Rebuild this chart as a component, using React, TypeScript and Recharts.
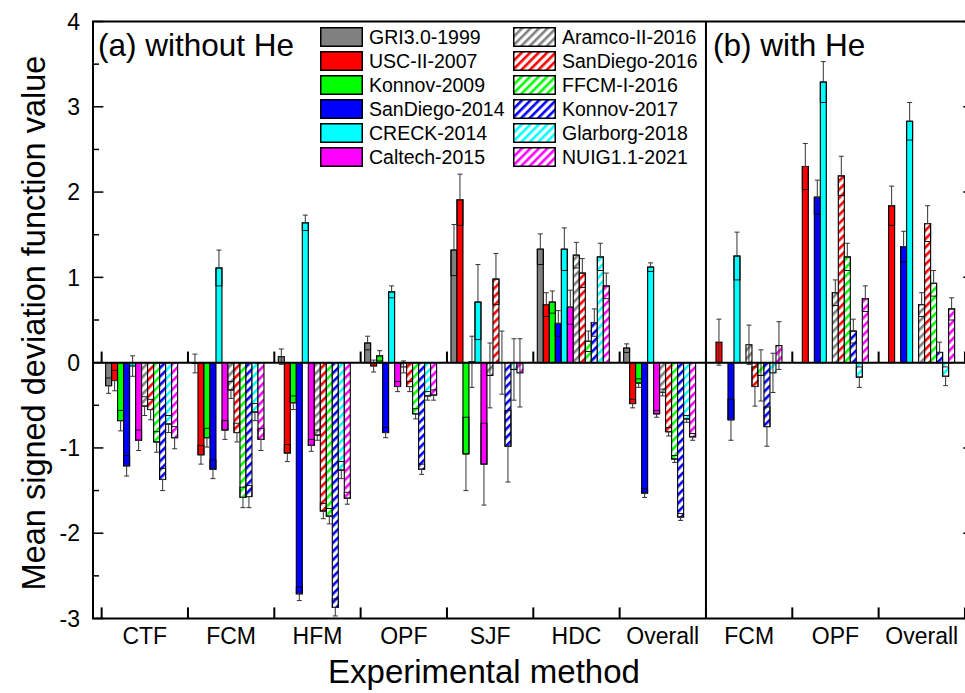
import React from "react";
import {
  Bar,
  BarChart,
  ErrorBar,
  ReferenceArea,
  ReferenceLine,
  XAxis,
  YAxis
} from "recharts";

const FONT = "'Liberation Sans', Arial, Helvetica, sans-serif";

// first seven groups: without He, last three: with He
const categories = ["CTF", "FCM", "HFM", "OPF", "SJF", "HDC", "Overall", "FCM", "OPF", "Overall"];

const gri = [-0.27, -0.01, 0.07, 0.23, 1.32, 1.33, 0.17, null, null, null];
const griErr = [0.09, 0.11, 0.09, 0.08, 0.3, 0.18, 0.05, null, null, null];

const usc = [-0.21, -1.08, -1.06, -0.04, 1.91, 0.68, -0.48, 0.24, 2.3, 1.84];
const uscErr = [0.12, 0.11, 0.1, 0.07, 0.3, 0.14, 0.05, 0.27, 0.27, 0.23];

const konnov09 = [-0.68, -0.88, -0.47, 0.08, -1.07, 0.71, -0.24, null, null, null];
const konnov09Err = [0.12, 0.11, 0.08, 0.06, 0.43, 0.13, 0.05, null, null, null];

const sd14 = [-1.21, -1.25, -2.71, -0.82, 0.01, 0.46, -1.53, -0.67, 1.94, 1.36];
const sd14Err = [0.12, 0.11, 0.08, 0.06, 0.3, 0.15, 0.05, 0.24, 0.2, 0.18];

const creck = [-0.04, 1.11, 1.64, 0.83, 0.71, 1.33, 1.12, 1.25, 3.29, 2.83];
const creckErr = [0.12, 0.21, 0.09, 0.07, 0.44, 0.25, 0.05, 0.28, 0.24, 0.22];

const caltech = [-0.91, -0.79, -0.97, -0.28, -1.19, 0.65, -0.6, null, null, null];
const caltechErr = [0.12, 0.11, 0.07, 0.06, 0.48, 0.2, 0.04, null, null, null];

const aramco = [-0.51, -0.32, -0.85, -0.05, -0.15, 1.26, -0.35, 0.21, 0.82, 0.68];
const aramcoErr = [0.11, 0.1, 0.06, 0.07, 0.38, 0.15, 0.04, 0.23, 0.15, 0.14];

const sd16 = [-0.55, -0.82, -1.74, -0.28, 0.98, 1.05, -0.81, -0.28, 2.19, 1.63];
const sd16Err = [0.12, 0.11, 0.09, 0.06, 0.3, 0.17, 0.05, 0.23, 0.23, 0.21];

const ffcm = [-0.93, -1.58, -1.8, -0.6, 0.0, 0.25, -1.13, -0.15, 1.24, 0.93];
const ffcmErr = [0.12, 0.12, 0.09, 0.06, 0.37, 0.12, 0.04, 0.3, 0.16, 0.15];

const konnov17 = [-1.37, -1.57, -2.87, -1.25, -0.98, 0.47, -1.81, -0.75, 0.37, 0.12];
const konnov17Err = [0.13, 0.13, 0.1, 0.06, 0.42, 0.16, 0.04, 0.23, 0.14, 0.12];

const glarborg = [-0.72, -0.58, -1.26, -0.39, -0.08, 1.24, -0.66, -0.12, -0.17, -0.16];
const glarborgErr = [0.1, 0.1, 0.1, 0.05, 0.36, 0.16, 0.04, 0.23, 0.12, 0.11];

const nuig = [-0.88, -0.9, -1.59, -0.38, -0.12, 0.9, -0.87, 0.2, 0.75, 0.63];
const nuigErr = [0.13, 0.13, 0.07, 0.06, 0.4, 0.15, 0.04, 0.28, 0.15, 0.13];

const yTicks = [-3, -2, -1, 0, 1, 2, 3, 4];
const yMinor = [-2.5, -1.5, -0.5, 0.5, 1.5, 2.5, 3.5];

type Series = {
  name: string;
  color: string;
  hatched: boolean;
  values: (number | null)[];
  errors: (number | null)[];
};

const series: Series[] = [
  { name: "GRI3.0-1999", color: "#808080", hatched: false, values: gri, errors: griErr },
  { name: "USC-II-2007", color: "#ff0000", hatched: false, values: usc, errors: uscErr },
  { name: "Konnov-2009", color: "#00ff00", hatched: false, values: konnov09, errors: konnov09Err },
  { name: "SanDiego-2014", color: "#0000ff", hatched: false, values: sd14, errors: sd14Err },
  { name: "CRECK-2014", color: "#00ffff", hatched: false, values: creck, errors: creckErr },
  { name: "Caltech-2015", color: "#ff00ff", hatched: false, values: caltech, errors: caltechErr },
  { name: "Aramco-II-2016", color: "#808080", hatched: true, values: aramco, errors: aramcoErr },
  { name: "SanDiego-2016", color: "#ff0000", hatched: true, values: sd16, errors: sd16Err },
  { name: "FFCM-I-2016", color: "#00ff00", hatched: true, values: ffcm, errors: ffcmErr },
  { name: "Konnov-2017", color: "#0000ff", hatched: true, values: konnov17, errors: konnov17Err },
  { name: "Glarborg-2018", color: "#00ffff", hatched: true, values: glarborg, errors: glarborgErr },
  { name: "NUIG1.1-2021", color: "#ff00ff", hatched: true, values: nuig, errors: nuigErr },
];

// whisker points away from zero; the inner box covers the other half
const whisker = (v: number | null, e: number | null) => {
  if (v == null || e == null) return null;
  if (Math.abs(v) >= e) return v > 0 ? [0, e] : [e, 0];
  return [e, e];
};

const rows = categories.map((cat, i) => {
  const row: Record<string, any> = { cat, idx: i + 0.5 };
  series.forEach((s, k) => {
    row[`v${k}`] = s.values[i];
    row[`s${k}`] = s.errors[i];
    row[`e${k}`] = whisker(s.values[i], s.errors[i]);
  });
  return row;
});

const fillOf = (s: Series, k: number) => (s.hatched ? `url(#hatch-${k})` : s.color);

const makeShape = (k: number) => (props: any) => {
  const { x, y, width, height, payload } = props;
  const v = payload?.[`v${k}`];
  if (v == null || !Number.isFinite(y) || !Number.isFinite(height)) return <g />;
  const top = height < 0 ? y + height : y;
  const h = Math.abs(height);
  const e = payload[`s${k}`];
  let box = null;
  if (e != null && Math.abs(v) >= e && h > 0) {
    const bh = (h * e) / Math.abs(v);
    const by = v > 0 ? top : top + h - bh;
    box = <rect x={x} y={by} width={width} height={bh} fill="none" stroke="#000" strokeWidth={0.9} />;
  }
  return (
    <g>
      <rect x={x} y={top} width={width} height={h} fill={fillOf(series[k], k)} stroke="#000" strokeWidth={1.1} />
      {box}
    </g>
  );
};

const Legend2Col = () => (
  <>
    {series.map((s, k) => {
      const col = k < 6 ? 0 : 1;
      const r = k % 6;
      return (
        <div
          key={s.name}
          style={{
            position: "absolute",
            left: col === 0 ? 320 : 513,
            top: 27 + r * 24,
            height: 20,
            display: "flex",
            alignItems: "center",
            fontSize: 19.5,
            color: "#000",
            whiteSpace: "nowrap"
          }}
        >
          <svg width={43} height={20} style={{ display: "block" }}>
            <rect x={0.75} y={0.75} width={41.5} height={18.5} fill={fillOf(s, k)} stroke="#000" strokeWidth={1.5} />
          </svg>
          <span style={{ marginLeft: 6 }}>{s.name}</span>
        </div>
      );
    })}
  </>
);

export default function App() {
  return (
    <div
      style={{
        position: "fixed",
        left: 0,
        top: 0,
        width: 965,
        height: 693,
        overflow: "hidden",
        background: "#fff",
        fontFamily: FONT
      }}
    >
      <svg width={0} height={0} style={{ position: "absolute" }}>
        <defs>
          {series.map((s, k) => (
            <pattern
              key={k}
              id={`hatch-${k}`}
              patternUnits="userSpaceOnUse"
              width={6}
              height={6}
              patternTransform="rotate(45)"
            >
              <rect width={6} height={6} fill="#fff" />
              <rect width={2.6} height={6} fill={s.color} />
            </pattern>
          ))}
        </defs>
      </svg>

      <BarChart
        width={990}
        height={693}
        data={rows}
        margin={{ top: 21.5, right: 16.4, bottom: 44.5, left: 0 }}
        barGap={0}
        barCategoryGap={0}
      >
        <XAxis
          xAxisId="c"
          dataKey="cat"
          padding={{ left: 8.63, right: 8.63 }}
          axisLine={false}
          tickLine={false}
          interval={0}
          height={30}
          tickMargin={3}
          tick={{ fontSize: 23, fill: "#000", fontFamily: FONT }}
        />
        <XAxis xAxisId="n" type="number" dataKey="idx" domain={[-0.1, 10.1]} allowDataOverflow hide />
        <YAxis
          type="number"
          domain={[-3, 4]}
          ticks={yTicks}
          interval={0}
          allowDataOverflow
          axisLine={false}
          tickLine={false}
          width={93}
          tickMargin={7}
          tick={{ fontSize: 23, fill: "#000", fontFamily: FONT }}
        />

        {series.map((s, k) => (
          <Bar
            key={s.name}
            xAxisId="c"
            dataKey={`v${k}`}
            name={s.name}
            barSize={6}
            fill={s.color}
            shape={makeShape(k)}
            isAnimationActive={false}
          >
            <ErrorBar
              dataKey={`e${k}`}
              direction="y"
              width={2.5}
              stroke="#333"
              strokeWidth={1}
              isAnimationActive={false}
            />
          </Bar>
        ))}
        {/* empty slot keeps each group slightly left of centre */}
        <Bar xAxisId="c" dataKey="pad" barSize={6} legendType="none" isAnimationActive={false} />

        <ReferenceLine xAxisId="n" y={0} stroke="#000" strokeWidth={2} ifOverflow="visible" />
        <ReferenceLine xAxisId="n" x={7} stroke="#000" strokeWidth={2} ifOverflow="visible" />
        {categories.concat([""]).map((_, k) => (
          <ReferenceLine
            key={`zt${k}`}
            xAxisId="n"
            segment={[{ x: k, y: 0 }, { x: k, y: 0.13 }]}
            stroke="#000"
            strokeWidth={2}
            ifOverflow="visible"
          />
        ))}
        {categories.concat([""]).map((_, k) => (
          <ReferenceLine
            key={`bt${k}`}
            xAxisId="n"
            segment={[{ x: k, y: -3 }, { x: k, y: -2.87 }]}
            stroke="#000"
            strokeWidth={2}
            ifOverflow="visible"
          />
        ))}
        {yTicks.concat(yMinor).map((t) => (
          <ReferenceLine
            key={`yl${t}`}
            xAxisId="n"
            segment={[{ x: -0.1, y: t }, { x: -0.1 + (Number.isInteger(t) ? 0.12 : 0.07), y: t }]}
            stroke="#000"
            strokeWidth={1.5}
            ifOverflow="visible"
          />
        ))}
        {yTicks.concat(yMinor).map((t) => (
          <ReferenceLine
            key={`yr${t}`}
            xAxisId="n"
            segment={[{ x: 10.1, y: t }, { x: 10.1 - (Number.isInteger(t) ? 0.12 : 0.07), y: t }]}
            stroke="#000"
            strokeWidth={1.5}
            ifOverflow="visible"
          />
        ))}
        <ReferenceArea
          xAxisId="n"
          x1={-0.1}
          x2={10.1}
          y1={-3}
          y2={4}
          fill="none"
          fillOpacity={0}
          stroke="#000"
          strokeWidth={2}
          ifOverflow="visible"
        />
      </BarChart>

      <svg
        width={965}
        height={693}
        style={{ position: "absolute", left: 0, top: 0, pointerEvents: "none" }}
        fontFamily={FONT}
      >
        <text x={98} y={56} fontSize={31.5} fill="#000">(a) without He</text>
        <text x={713} y={56} fontSize={31.5} fill="#000">(b) with He</text>
        <text x={484} y={683} fontSize={33} fill="#000" textAnchor="middle">Experimental method</text>
        <text
          transform="translate(45,323) rotate(-90)"
          fontSize={32.5}
          fill="#000"
          textAnchor="middle"
        >
          Mean signed deviation function value
        </text>
      </svg>

      <Legend2Col />
    </div>
  );
}
